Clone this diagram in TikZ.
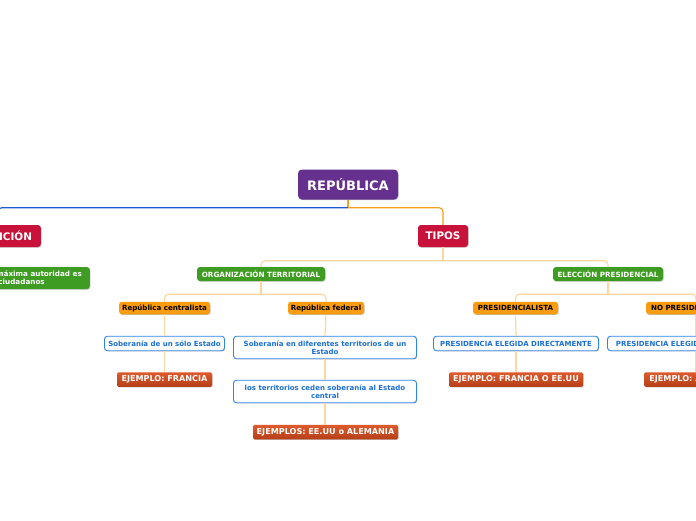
\documentclass[tikz,border=0pt]{standalone}
\usepackage{fontspec}
\setmainfont{DejaVu Sans}
\usetikzlibrary{shadows}
\definecolor{rootc}{HTML}{66308F}
\definecolor{redc}{HTML}{C8123A}
\definecolor{greenc}{HTML}{3F9C23}
\definecolor{orangec}{HTML}{FB9B0E}
\definecolor{bluet}{HTML}{1B6FD6}
\definecolor{blueb}{HTML}{2E86E6}
\definecolor{exTop}{HTML}{DE5A2C}
\definecolor{exBot}{HTML}{B63F18}
\definecolor{paleline}{HTML}{FFD79E}
\definecolor{strongline}{HTML}{F5A01A}
\definecolor{blueline}{HTML}{1F5AD6}
\tikzset{
  box/.style={rounded corners=3pt, inner sep=0pt, align=center,
    drop shadow={shadow xshift=0.6pt, shadow yshift=-0.7pt, opacity=0.25, fill=black}},
  rootbox/.style={box, fill=rootc, text=white, rounded corners=4pt,
    font=\fontsize{13}{15}\selectfont\bfseries},
  mainbox/.style={box, fill=redc, text=white, font=\fontsize{10.4}{12}\selectfont\bfseries},
  greenbox/.style={box, fill=greenc, text=white, font=\fontsize{7.2}{8.2}\selectfont\bfseries},
  orbox/.style={box, fill=orangec, text=black, font=\fontsize{7.1}{8.2}\selectfont\bfseries},
  leafbox/.style={box, fill=white, draw=blueb, line width=0.9pt, text=bluet,
    font=\fontsize{7}{8.3}\selectfont\bfseries},
  exbox/.style={box, top color=exTop, bottom color=exBot, text=white, rounded corners=1.5pt,
    font=\fontsize{8.1}{9.5}\selectfont\bfseries},
  conn/.style={draw=paleline, line width=1.2pt},
  tconn/.style={conn, rounded corners=4pt},
}
\begin{document}
\begin{tikzpicture}[x=1pt,y=-1pt]
\useasboundingbox (0,0) rectangle (696,520);
\fill[white] (0,0) rectangle (696,520);
\clip (0,0) rectangle (696,520);

% nodes
\node[rootbox, minimum width=100pt, minimum height=30pt] (rep) at (348,184.5) {REPÚBLICA};
\node[mainbox, anchor=east, minimum width=86pt, minimum height=22pt] (def) at (41,236) {DEFINICIÓN};
\node[mainbox, minimum width=50pt, minimum height=22pt] (tipos) at (443,236) {TIPOS};
\node[greenbox, anchor=east, minimum height=22pt, align=left, inner xsep=8pt] (aut) at (90,278) {La máxima autoridad es\\los ciudadanos};

\node[greenbox, minimum width=128pt, minimum height=14pt] (org) at (261,274) {ORGANIZACIÓN TERRITORIAL};
\node[greenbox, minimum width=110pt, minimum height=14pt] (elec) at (608,274) {ELECCIÓN PRESIDENCIAL};

\node[orbox, minimum width=91pt, minimum height=12.5pt] (cent) at (164.5,308) {República centralista};
\node[orbox, minimum width=76pt, minimum height=12.5pt] (fed) at (326,308) {República federal};
\node[orbox, minimum width=85pt, minimum height=12.5pt] (pres) at (515.5,308) {PRESIDENCIALISTA};
\node[orbox, minimum width=100pt, minimum height=12.5pt] (nopres) at (696,308) {NO PRESIDENCIALISTA};

\node[leafbox, minimum width=120pt, minimum height=14.5pt] (sob1) at (164.5,343.5) {Soberanía de un sólo Estado};
\node[leafbox, minimum width=183pt, minimum height=22.5pt] (sob2) at (325,347.5) {Soberanía en diferentes territorios de un\\Estado};
\node[leafbox, minimum width=165pt, minimum height=14.5pt] (pde) at (516,343.5) {PRESIDENCIA ELEGIDA DIRECTAMENTE};
\node[leafbox, minimum width=177pt, minimum height=14.5pt] (pdi) at (696,343.5) {PRESIDENCIA ELEGIDA INDIRECTAMENTE};
\node[leafbox, minimum width=183pt, minimum height=22.5pt] (ter) at (325,391.5) {los territorios ceden soberanía al Estado\\central};

\node[exbox, minimum width=95pt, minimum height=14.5pt] (ej1) at (164.5,379.5) {EJEMPLO: FRANCIA};
\node[exbox, minimum width=145pt, minimum height=14.5pt] (ej2) at (325.5,432) {EJEMPLOS: EE.UU o ALEMANIA};
\node[exbox, minimum width=134pt, minimum height=14.5pt] (ej3) at (516,379.5) {EJEMPLO: FRANCIA O EE.UU};
\node[exbox, minimum width=104pt, minimum height=14.5pt] (ej4) at (696,379.5) {EJEMPLO: ALEMANIA};

% connectors from the root
\draw[draw=strongline, line width=1.2pt] (rep.south) -- ++(0,8) coordinate (r1);
\draw[draw=blueline, line width=1.1pt, rounded corners=4pt] (r1) -| (def.north);
\draw[draw=strongline, line width=1.1pt, rounded corners=4pt] (r1) -| (tipos.north);
\draw[conn] (def.south) -- (aut.north -| def.south);

% TIPOS
\draw[conn] (tipos.south) -- ++(0,13.5) coordinate (t1);
\draw[tconn] (t1) -| (org.north);
\draw[tconn] (t1) -| (elec.north);

% ORGANIZACION TERRITORIAL
\draw[conn] (org.south) -- ++(0,13) coordinate (o1);
\draw[tconn] (o1) -| (cent.north);
\draw[tconn] (o1) -| (fed.north);
\draw[conn] (cent.south) -- (sob1.north);
\draw[conn] (sob1.south) -- (ej1.north);
\draw[conn] (fed.south) -- (sob2.north);
\draw[conn] (sob2.south) -- (ter.north);
\draw[conn] (ter.south) -- (ej2.north -| ter.south);

% ELECCION PRESIDENCIAL
\draw[conn] (elec.south) -- ++(0,13) coordinate (e1);
\draw[tconn] (e1) -| (pres.north);
\draw[tconn] (e1) -| (nopres.north);
\draw[conn] (pres.south) -- (pde.north);
\draw[conn] (pde.south) -- (ej3.north);
\draw[conn] (nopres.south) -- (pdi.north);
\draw[conn] (pdi.south) -- (ej4.north);
\end{tikzpicture}
\end{document}
